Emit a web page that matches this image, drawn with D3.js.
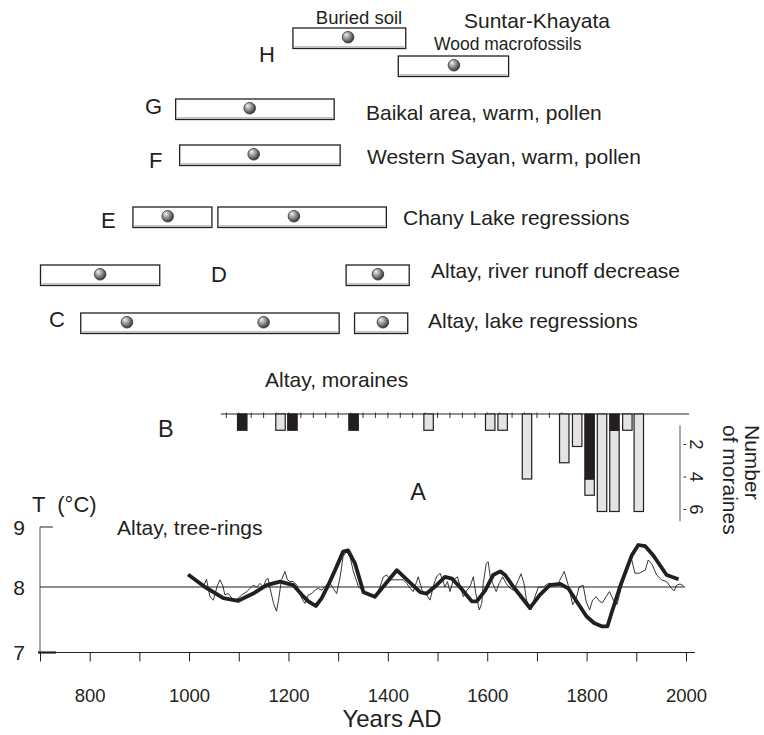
<!DOCTYPE html>
<html>
<head>
<meta charset="utf-8">
<script src="https://cdn.jsdelivr.net/npm/d3@7/dist/d3.min.js"></script>
<style>
  body { margin: 0; background: #fff; }
  svg text { font-family: "Liberation Sans", Arial, Helvetica, sans-serif; fill: #231f20; }
</style>
</head>
<body>
<svg id="chart" width="764" height="735"></svg>
<script>
// --- proxy records (boxes), years AD
const boxStart = [1209, 1421, 973, 981, 887, 1058, 701, 1316, 782, 1333];
const boxEnd   = [1436, 1643, 1292, 1304, 1046, 1397, 941, 1443, 1302, 1440];
const boxDots  = [[1320], [1533], [1122], [1130], [957], [1211], [821], [1380], [875, 1150], [1390]];
const boxRow   = [0, 1, 2, 3, 4, 4, 5, 5, 6, 6];

const rowLetters = ['H', 'G', 'F', 'E', 'D', 'C', 'B', 'A'];
const captions = ['Buried soil', 'Suntar-Khayata', 'Wood macrofossils', 'Baikal area, warm, pollen',
                  'Western Sayan, warm, pollen', 'Chany Lake regressions', 'Altay, river runoff decrease',
                  'Altay, lake regressions', 'Altay, moraines', 'Altay, tree-rings'];

// --- B: moraines per 25-yr interval (black / grey parts)
const moraineYears = [1107, 1184, 1208, 1331, 1482, 1606, 1631, 1680, 1755, 1781, 1806, 1831, 1856, 1882, 1905];
const moraineBlack = [1, 0, 1, 1, 0, 0, 0, 0, 0, 0, 4, 0, 1, 0, 0];
const moraineGrey  = [0, 1, 0, 0, 1, 1, 1, 4, 3, 2, 1, 6, 5, 1, 6];
const moraineTicks = [2, 4, 6];

// --- A: tree-ring temperature, thin (raw) and thick (smoothed)
const ringYears = [1030, 1035, 1042, 1049, 1056, 1062, 1068, 1072, 1079, 1086, 1092, 1099, 1106, 1116, 1123, 1129,
  1136, 1143, 1149, 1155, 1159, 1163, 1170, 1176, 1180, 1186, 1193, 1198, 1203, 1210, 1217, 1222, 1229, 1233, 1240,
  1247, 1253, 1260, 1267, 1272, 1277, 1284, 1290, 1297, 1304, 1310, 1317, 1324, 1330, 1341, 1354, 1364, 1374, 1384,
  1391, 1398, 1404, 1414, 1424, 1431, 1438, 1445, 1451, 1458, 1461, 1466, 1471, 1478, 1485, 1492, 1498, 1505, 1510,
  1515, 1520, 1525, 1532, 1540, 1545, 1552, 1559, 1565, 1572, 1577, 1584, 1589, 1592, 1598, 1602, 1606, 1611, 1618,
  1624, 1631, 1638, 1646, 1653, 1663, 1668, 1674, 1679, 1688, 1696, 1703, 1713, 1723, 1733, 1743, 1755, 1763, 1772,
  1779, 1785, 1793, 1799, 1806, 1812, 1819, 1826, 1832, 1839, 1846, 1854, 1861, 1866, 1874, 1884, 1891, 1897, 1906,
  1918, 1924, 1931, 1941, 1951, 1961, 1971, 1976, 1981, 1988, 1995];
const ringT = [8.03, 8.13, 7.85, 7.80, 8.00, 8.12, 8.02, 7.88, 7.90, 7.83, 7.80, 7.83, 7.88, 7.93, 7.98, 8.03,
  8.00, 8.06, 8.00, 8.12, 8.14, 7.98, 7.75, 7.63, 7.80, 8.12, 8.26, 8.12, 8.09, 8.09, 8.03, 7.90, 7.80, 7.75, 7.88,
  7.90, 7.95, 7.98, 7.95, 8.00, 8.03, 8.06, 7.98, 7.90, 8.17, 8.51, 8.59, 8.50, 8.28, 8.00, 7.93, 7.88, 7.83, 8.00,
  8.17, 8.20, 8.12, 8.12, 8.12, 8.12, 8.06, 7.98, 7.93, 8.09, 8.17, 8.03, 7.90, 7.88, 7.80, 8.03, 8.17, 8.23, 8.12,
  8.00, 8.09, 7.93, 8.12, 8.17, 8.03, 7.85, 7.95, 8.00, 8.17, 7.90, 7.65, 7.75, 8.06, 8.39, 8.42, 8.17, 8.06, 7.93,
  8.06, 8.17, 8.06, 7.98, 7.95, 8.12, 8.22, 8.06, 7.80, 7.65, 7.85, 8.00, 8.00, 8.06, 8.06, 8.06, 8.26, 8.03, 7.73,
  7.83, 8.00, 8.03, 7.78, 7.65, 7.80, 7.85, 7.78, 7.76, 7.85, 7.93, 7.80, 7.73, 7.88, 8.12, 8.39, 8.45, 8.23, 8.23,
  8.28, 8.45, 8.39, 8.20, 8.12, 8.09, 7.98, 7.94, 8.03, 8.05, 8.02];

const smoothYears = [998, 1032, 1069, 1099, 1129, 1156, 1183, 1210, 1227, 1240, 1255, 1267, 1280, 1297, 1310, 1320,
  1334, 1351, 1374, 1418, 1465, 1478, 1498, 1515, 1529, 1545, 1569, 1579, 1596, 1612, 1626, 1636, 1653, 1686, 1706,
  1726, 1747, 1763, 1780, 1800, 1815, 1830, 1842, 1850, 1867, 1891, 1904, 1918, 1934, 1961, 1985];
const smoothT = [8.21, 8.00, 7.83, 7.79, 7.90, 8.03, 8.09, 8.03, 7.88, 7.78, 7.71, 7.83, 8.03, 8.34, 8.59, 8.61,
  8.39, 7.92, 7.85, 8.28, 7.92, 7.90, 8.03, 8.17, 8.14, 8.00, 7.78, 7.78, 7.95, 8.20, 8.26, 8.20, 8.00, 7.68, 7.88,
  8.03, 8.05, 7.98, 7.78, 7.55, 7.45, 7.40, 7.40, 7.60, 8.00, 8.53, 8.70, 8.68, 8.53, 8.20, 8.13];

const xTicks = d3.range(700, 2001, 100);
const xLabels = [800, 1000, 1200, 1400, 1600, 1800, 2000];
const tTicks = [7, 8, 9];

// --- layout
const rowY = [28, 56, 99, 145, 207, 265, 313];
const boxH = 20.5;
const letterPos = [[259, 62], [145, 113.5], [149, 168], [101, 228], [211, 282], [49, 327], [158, 437], [418, 500]];
const captionPos = [[359, 24, 18.5, 'middle'], [464, 27.5, 21, 'start'], [434, 49.5, 17.5, 'start'],
                    [366, 119.5, 21, 'start'], [367, 163.5, 21, 'start'], [403, 224.5, 21, 'start'],
                    [431, 278, 21, 'start'], [428, 328, 21, 'start'], [265, 387, 21, 'start'], [117, 535, 21, 'start']];

const svg = d3.select('#chart');
const ink = '#231f20';

const x = d3.scaleLinear().domain([700, 2000]).range([40, 686]);
const yT = d3.scaleLinear().domain([7, 8, 9]).range([652.5, 587, 527]);
const yM = d3.scaleLinear().domain([0, 6]).range([414, 511.5]);

// sphere gradient for the dots
const grad = svg.append('defs').append('radialGradient')
  .attr('id', 'ball').attr('cx', '40%').attr('cy', '38%').attr('r', '65%').attr('fx', '32%').attr('fy', '28%');
grad.append('stop').attr('offset', '0%').attr('stop-color', '#f2f2f2');
grad.append('stop').attr('offset', '45%').attr('stop-color', '#9b9b9b');
grad.append('stop').attr('offset', '100%').attr('stop-color', '#2e2e2e');

// boxes
const boxes = svg.append('g');
boxStart.forEach((s, i) => {
  const y0 = rowY[boxRow[i]];
  boxes.append('rect')
    .attr('x', x(s)).attr('y', y0)
    .attr('width', x(boxEnd[i]) - x(s)).attr('height', boxH)
    .attr('fill', '#fff').attr('stroke', ink).attr('stroke-width', 1.3);
  boxes.append('line')
    .attr('x1', x(s) + 1.5).attr('x2', x(boxEnd[i]) - 1.5)
    .attr('y1', y0 + boxH - 1.6).attr('y2', y0 + boxH - 1.6)
    .attr('stroke', '#9a9a9a').attr('stroke-width', 1);
  boxDots[i].forEach(d => {
    boxes.append('circle')
      .attr('cx', x(d)).attr('cy', y0 + boxH / 2 - 1)
      .attr('r', 5.8)
      .attr('fill', 'url(#ball)').attr('stroke', '#333').attr('stroke-width', 0.8);
  });
});

// letters
rowLetters.forEach((l, i) => {
  svg.append('text')
    .attr('x', letterPos[i][0]).attr('y', letterPos[i][1])
    .attr('font-size', l === 'A' || l === 'B' ? 23.5 : 22)
    .attr('text-anchor', l === 'A' ? 'middle' : 'start')
    .text(l);
});

// captions
captions.forEach((c, i) => {
  const p = captionPos[i];
  svg.append('text')
    .attr('x', p[0]).attr('y', p[1])
    .attr('font-size', p[2])
    .attr('text-anchor', p[3])
    .text(c);
});

// --- B: moraines
const mor = svg.append('g');
mor.append('line')
  .attr('x1', x(1064)).attr('x2', x(2006))
  .attr('y1', yM(0)).attr('y2', yM(0))
  .attr('stroke', ink).attr('stroke-width', 1);
d3.range(1075, 1751, 25).forEach(t => {
  mor.append('line')
    .attr('x1', x(t)).attr('x2', x(t))
    .attr('y1', yM(0) - 1.5).attr('y2', yM(0) + 4)
    .attr('stroke', ink).attr('stroke-width', 0.9);
});
moraineYears.forEach((yr, i) => {
  const b = moraineBlack[i], g = moraineGrey[i];
  if (g > 0) {
    mor.append('rect')
      .attr('x', x(yr - 9.5)).attr('width', x(yr + 9.5) - x(yr - 9.5))
      .attr('y', yM(b)).attr('height', yM(b + g) - yM(b))
      .attr('fill', '#e4e4e4').attr('stroke', ink).attr('stroke-width', 1.2);
  }
  if (b > 0) {
    mor.append('rect')
      .attr('x', x(yr - 9.5)).attr('width', x(yr + 9.5) - x(yr - 9.5))
      .attr('y', yM(0)).attr('height', yM(b) - yM(0))
      .attr('fill', ink).attr('stroke', ink).attr('stroke-width', 1.2);
  }
});

// moraine count axis (right)
const mAxisX = 680;
mor.append('line')
  .attr('x1', mAxisX).attr('x2', mAxisX)
  .attr('y1', yM(0.7)).attr('y2', yM(6.6))
  .attr('stroke', '#555').attr('stroke-width', 1);
moraineTicks.forEach(t => {
  mor.append('line')
    .attr('x1', mAxisX + 3.5).attr('x2', mAxisX + 6)
    .attr('y1', yM(t) - 2).attr('y2', yM(t) - 2)
    .attr('stroke', ink).attr('stroke-width', 1);
  mor.append('text')
    .attr('transform', `translate(${mAxisX + 10},${yM(t) - 2}) rotate(90)`)
    .attr('text-anchor', 'middle')
    .attr('font-size', 18.5)
    .text(t);
});
mor.append('text')
  .attr('transform', 'translate(745,425) rotate(90)')
  .attr('font-size', 21)
  .text('Number');
mor.append('text')
  .attr('transform', 'translate(723,425) rotate(90)')
  .attr('font-size', 21)
  .text('of moraines');

// --- A: tree-rings
const pA = svg.append('g');

// y axis
pA.append('line')
  .attr('x1', x(700)).attr('x2', x(700))
  .attr('y1', yT(9)).attr('y2', yT(7))
  .attr('stroke', '#555').attr('stroke-width', 1);
pA.append('line')
  .attr('x1', x(700)).attr('x2', x(726))
  .attr('y1', yT(9)).attr('y2', yT(9))
  .attr('stroke', ink).attr('stroke-width', 1);
pA.append('line')
  .attr('x1', x(700)).attr('x2', x(1998))
  .attr('y1', yT(8)).attr('y2', yT(8))
  .attr('stroke', ink).attr('stroke-width', 1);
pA.append('line')
  .attr('x1', x(696)).attr('x2', x(732))
  .attr('y1', yT(7)).attr('y2', yT(7))
  .attr('stroke', ink).attr('stroke-width', 2.2);
tTicks.forEach(t => {
  pA.append('text')
    .attr('x', 25).attr('y', yT(t) + 7.5)
    .attr('text-anchor', 'end')
    .attr('font-size', 21)
    .text(t);
});
pA.append('text')
  .attr('x', 32).attr('y', 512)
  .attr('font-size', 22)
  .style('white-space', 'pre')
  .text('T  (\u00b0C)');

// x axis
const xAxis = pA.append('g')
  .attr('transform', `translate(0,${yT(7)})`)
  .call(d3.axisBottom(x).tickValues(xTicks).tickSize(9).tickSizeOuter(0)
    .tickFormat(d => xLabels.includes(d) ? d : ''));
xAxis.select('.domain').remove();
xAxis.attr('font-family', null).attr('font-size', null).attr('color', ink);
xAxis.selectAll('.tick line').attr('stroke-width', 1);
xAxis.selectAll('.tick text')
  .attr('y', 49).attr('dy', 0)
  .attr('font-size', 18.5);
pA.append('line')
  .attr('x1', x(696)).attr('x2', x(2018))
  .attr('y1', yT(7)).attr('y2', yT(7))
  .attr('stroke', ink).attr('stroke-width', 1.1);

pA.append('text')
  .attr('x', 392).attr('y', 727)
  .attr('text-anchor', 'middle')
  .attr('font-size', 24)
  .text('Years AD');

// curves
const line = d3.line().x(d => x(d[0])).y(d => yT(d[1]));
pA.append('path')
  .datum(ringYears.map((yr, i) => [yr, ringT[i]]))
  .attr('d', line)
  .attr('fill', 'none').attr('stroke', ink).attr('stroke-width', 0.9)
  .attr('stroke-linejoin', 'round');
pA.append('path')
  .datum(smoothYears.map((yr, i) => [yr, smoothT[i]]))
  .attr('d', line)
  .attr('fill', 'none').attr('stroke', ink).attr('stroke-width', 3.8)
  .attr('stroke-linejoin', 'round').attr('stroke-linecap', 'butt');
</script>
</body>
</html>
